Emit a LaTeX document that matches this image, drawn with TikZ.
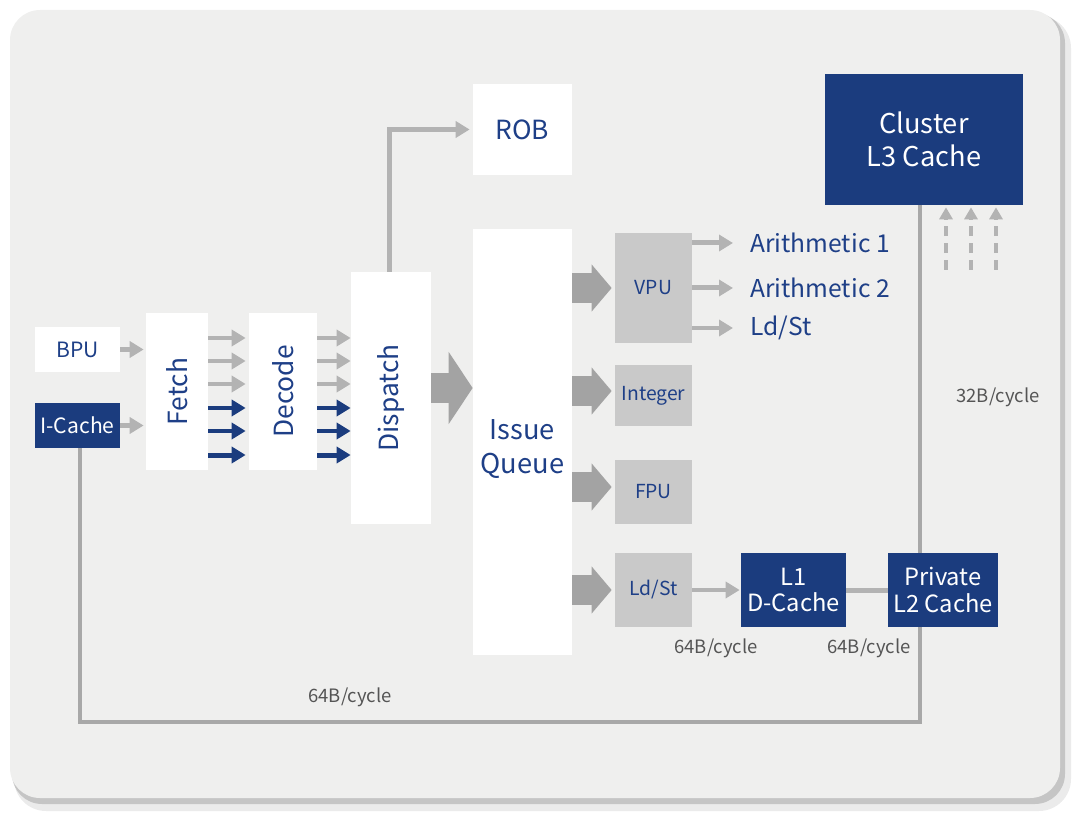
\documentclass[tikz,border=0pt]{standalone}
\usepackage{fontspec}
\setmainfont{Noto Sans CJK SC}
\usepackage{xcolor}
\usepackage{tikz}
\usetikzlibrary{arrows.meta, positioning}

\definecolor{navy}{HTML}{1B3C7E}
\definecolor{navytext}{HTML}{1E3F87}
\definecolor{panelbg}{HTML}{EFEFEE}
\definecolor{unitgray}{HTML}{C9C9C9}
\definecolor{arrowgray}{HTML}{B3B3B3}
\definecolor{fatgray}{HTML}{A3A3A3}
\definecolor{busgray}{HTML}{A8A8A8}
\definecolor{rategray}{HTML}{555555}

\begin{document}
\begin{tikzpicture}[
        x=0.02cm, y=-0.02cm,
        stage/.style={fill=white, text=navytext, inner sep=0pt, align=center, font=\fontsize{15}{18}\selectfont},
        small/.style={fill=white, text=navytext, inner sep=0pt, minimum width=1.7cm, minimum height=0.9cm, font=\fontsize{12}{14}\selectfont},
        cache/.style={fill=navy, text=white, inner sep=0pt, align=center},
        unit/.style={fill=unitgray, text=navytext, inner sep=0pt, minimum width=1.54cm, font=\fontsize{11}{13}\selectfont},
        outlabel/.style={text=navytext, inner sep=0pt, anchor=west, font=\fontsize{14}{16}\selectfont},
        rate/.style={text=rategray, inner sep=0pt, font=\fontsize{10.5}{12}\selectfont},
        flow/.style={arrowgray, line width=0.1cm, -{Triangle[length=0.28cm, width=0.32cm]}},
        navyflow/.style={navy, line width=0.1cm, -{Triangle[length=0.28cm, width=0.32cm]}},
        bigflow/.style={fatgray, line width=0.6cm, -{Triangle[length=0.48cm, width=1.42cm]}},
        unitflow/.style={fatgray, line width=0.6cm, -{Triangle[length=0.4cm, width=0.92cm]}},
        dashflow/.style={arrowgray, line width=0.07cm, dash pattern=on 0.2cm off 0.14cm, -{Triangle[length=0.24cm, width=0.26cm]}},
        bus/.style={busgray, line width=0.08cm}
    ]
        \useasboundingbox (0,0) rectangle (1080,821);

        % Panel
        \fill[black, opacity=0.08, rounded corners=0.64cm] (14,16) rectangle (1071,811);
        \fill[black, opacity=0.16, rounded corners=0.6cm] (12,13) rectangle (1065,804);
        \fill[panelbg, rounded corners=0.6cm] (10,10) rectangle (1060,798);

        % Front end
        \node (bpu) [small] at (77.5, 349.5) {BPU};
        \node (icache) [small, cache] at (77.5, 425.5) {I-Cache};
        \node (fetch) [stage, minimum width=1.24cm, minimum height=3.14cm] at (177, 391.5) {\rotatebox{90}{Fetch}};
        \node (decode) [stage, minimum width=1.36cm, minimum height=3.14cm] at (283, 391.5) {\rotatebox{90}{Decode}};
        \node (dispatch) [stage, minimum width=1.6cm, minimum height=5.04cm] at (391, 398) {\rotatebox{90}{Dispatch}};

        % Back end
        \node (rob) [stage, minimum width=1.98cm, minimum height=1.82cm] at (522.5, 129.5) {ROB};
        \node (issue) [stage, minimum width=1.98cm, minimum height=8.52cm, font=\fontsize{15.5}{19}\selectfont] at (522.5, 442)
            {\raisebox{-0.16cm}[\height][\depth]{\begin{tabular}{@{}c@{}}Issue\\Queue\end{tabular}}};
        \node (vpu) [unit, minimum height=2.2cm] at (653.5, 288) {VPU};
        \node (integer) [unit, minimum height=1.22cm] at (653.5, 395.5) {Integer};
        \node (fpu) [unit, minimum height=1.28cm] at (653.5, 492) {FPU};
        \node (ldst) [unit, minimum height=1.48cm] at (653.5, 590) {Ld/St};

        % VPU outputs
        \node (arith1) [outlabel] at (750, 243) {Arithmetic 1};
        \node (arith2) [outlabel] at (750, 288) {Arithmetic 2};
        \node (vldst) [outlabel] at (750, 328) {Ld/St};

        % Caches
        \node (l1) [cache, minimum width=2.1cm, minimum height=1.48cm, font=\fontsize{13.5}{15}\selectfont] at (793.5, 590) {L1\\D-Cache};
        \node (l2) [cache, minimum width=2.2cm, minimum height=1.48cm, font=\fontsize{13.5}{15}\selectfont] at (943, 590) {Private\\L2 Cache};
        \node (l3) [cache, minimum width=3.96cm, minimum height=2.62cm, font=\fontsize{15.5}{18.5}\selectfont] at (924, 139.5) {Cluster\\L3 Cache};

        % Bandwidth labels
        \node (r32) [rate] at (998, 397) {32B/cycle};
        \node (r64a) [rate] at (716, 648) {64B/cycle};
        \node (r64b) [rate] at (869, 648) {64B/cycle};
        \node (r64c) [rate] at (350, 697) {64B/cycle};

        % Buses
        \coordinate (busturn) at (920, 722);
        \draw [bus] ([xshift=0.05cm]icache.south) |- (busturn) -- (busturn |- l2.south);
        \draw [bus] (busturn |- l2.north) -- (busturn |- l3.south);
        \draw [flow, line width=0.1cm, -] (l1.east) -- (l2.west);

        % Front end connections
        \draw [flow, shorten >=0.04cm] (bpu.east) -- (bpu.east -| fetch.west);
        \draw [flow, shorten >=0.04cm] (icache.east) -- (icache.east -| fetch.west);
        \foreach \y in {338, 361, 384} {
            \draw [flow, shorten >=0.06cm] (fetch.east |- 0,\y) -- (decode.west |- 0,\y);
            \draw [flow] (decode.east |- 0,\y) -- (dispatch.west |- 0,\y);
        }
        \foreach \y in {408, 431, 455} {
            \draw [navyflow, shorten >=0.06cm] (fetch.east |- 0,\y) -- (decode.west |- 0,\y);
            \draw [navyflow] (decode.east |- 0,\y) -- (dispatch.west |- 0,\y);
        }

        % Dispatch connections
        \draw [flow, shorten >=0.06cm] ([xshift=-0.04cm]dispatch.north) |- (rob.west);
        \draw [bigflow] ([yshift=0.2cm]dispatch.east) -- ([yshift=0.2cm]dispatch.east -| issue.west);

        % Issue connections
        \draw [unitflow, shorten >=0.06cm] (vpu.west -| issue.east) -- (vpu.west);
        \draw [unitflow, shorten >=0.06cm] ([yshift=0.09cm]integer.west -| issue.east) -- ([yshift=0.09cm]integer.west);
        \draw [unitflow, shorten >=0.06cm] ([yshift=0.1cm]fpu.west -| issue.east) -- ([yshift=0.1cm]fpu.west);
        \draw [unitflow, shorten >=0.06cm] (ldst.west -| issue.east) -- (ldst.west);

        % Unit outputs
        \draw [flow, shorten >=0.34cm] (vpu.east |- arith1) -- (arith1.west);
        \draw [flow, shorten >=0.34cm] (vpu.east |- arith2) -- (arith2.west);
        \draw [flow, shorten >=0.34cm] (vpu.east |- vldst) -- (vldst.west);
        \draw [flow, line width=0.08cm, shorten >=0.02cm] (ldst.east) -- (l1.west);

        % L3 fill traffic
        \foreach \x in {946, 971, 996} {
            \coordinate (up\x) at (\x, 270);
            \draw [dashflow, shorten >=0.04cm] (up\x) -- (up\x |- l3.south);
        }
    \end{tikzpicture}
\end{document}
